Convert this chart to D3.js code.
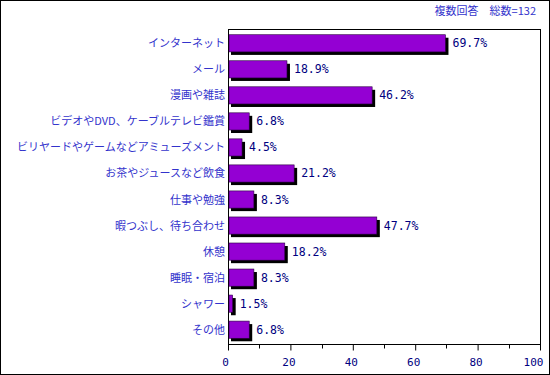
<!DOCTYPE html>
<html>
<head>
<meta charset="utf-8">
<script src="https://cdn.jsdelivr.net/npm/d3@7"></script>
<style>
  body { margin: 0; background: #fff; }
  svg { display: block; }
</style>
</head>
<body>
<svg id="chart"></svg>
<script>
const categories = [
  "インターネット", "メール", "漫画や雑誌", "ビデオやDVD、ケーブルテレビ鑑賞",
  "ビリヤードやゲームなどアミューズメント", "お茶やジュースなど飲食", "仕事や勉強",
  "暇つぶし、待ち合わせ", "休憩", "睡眠・宿泊", "シャワー", "その他"
];
const values = [69.7, 18.9, 46.2, 6.8, 4.5, 21.2, 8.3, 47.7, 18.2, 8.3, 1.5, 6.8];
const xTicks = [0, 20, 40, 60, 80, 100];
const minorTicks = [10, 30, 50, 70, 90];
const note = "複数回答　総数=132";

const W = 550, H = 375;
const m = { left: 228, right: 10, top: 29, bottom: 31 };
const svg = d3.select("#chart").attr("width", W).attr("height", H);

// outer frame
svg.append("rect").attr("x", 0.5).attr("y", 0.5).attr("width", W - 1).attr("height", H - 1)
  .attr("fill", "#fff").attr("stroke", "#000");

const x = d3.scaleLinear().domain([0, 100]).range([m.left, W - m.right]);
const y = d3.scaleBand().domain(categories).range([m.top, H - m.bottom]).paddingInner(0.34).paddingOuter(0.22);

// plot frame
svg.append("rect")
  .attr("x", x(0) + 0.5).attr("y", m.top + 0.5)
  .attr("width", x(100) - x(0)).attr("height", H - m.bottom - m.top)
  .attr("fill", "none").attr("stroke", "#000");

const font = "'Noto Sans CJK JP', sans-serif";
const mono = "'DejaVu Sans Mono', monospace";

// bars with shadow
const g = svg.append("g");
const rows = g.selectAll("g.row").data(categories).enter().append("g").attr("class", "row");
rows.append("rect")
  .attr("x", x(0) + 3).attr("y", d => y(d) + 3)
  .attr("width", (d, i) => x(values[i]) - x(0)).attr("height", y.bandwidth())
  .attr("fill", "#000");
rows.append("rect")
  .attr("x", x(0) + 1).attr("y", d => y(d))
  .attr("width", (d, i) => x(values[i]) - x(0) - 1).attr("height", y.bandwidth())
  .attr("fill", "#9400d3").attr("stroke", "#2a0040").attr("stroke-width", 0.6);

rows.append("text")
  .attr("x", (d, i) => x(values[i]) + 7).attr("y", d => y(d) + y.bandwidth() / 2 + 4)
  .attr("font-family", mono).attr("font-size", 11.5).attr("fill", "#000080")
  .text((d, i) => values[i].toFixed(1) + "%");

// category labels
svg.append("g").selectAll("text").data(categories).enter().append("text")
  .attr("x", x(0) - 3).attr("y", d => y(d) + y.bandwidth() / 2 + 4)
  .attr("text-anchor", "end").attr("font-family", font).attr("font-size", 11)
  .attr("fill", "#3333cc").text(d => d);

// x axis
const axisY = H - m.bottom + 0.5;
const ax = svg.append("g").attr("transform", `translate(0,${axisY})`)
  .call(d3.axisBottom(x).tickValues(xTicks).tickSize(6).tickSizeOuter(0));
ax.select(".domain").remove();
ax.selectAll("line").attr("stroke", "#000");
ax.selectAll("text").attr("font-family", mono).attr("font-size", 11)
  .attr("fill", "#000080").attr("dy", "1.1em")
  .attr("dx", d => d === 0 ? -3 : d === 100 ? -7 : -2);
svg.append("g").selectAll("line").data(minorTicks).enter().append("line")
  .attr("x1", d => Math.round(x(d)) + 0.5).attr("x2", d => Math.round(x(d)) + 0.5)
  .attr("y1", axisY).attr("y2", axisY + 4).attr("stroke", "#000");

// note
svg.append("text").attr("x", 536).attr("y", 15).attr("text-anchor", "end")
  .attr("font-family", font).attr("font-size", 11).attr("fill", "#3333cc")
  .attr("xml:space", "preserve").text(note);
</script>
</body>
</html>
